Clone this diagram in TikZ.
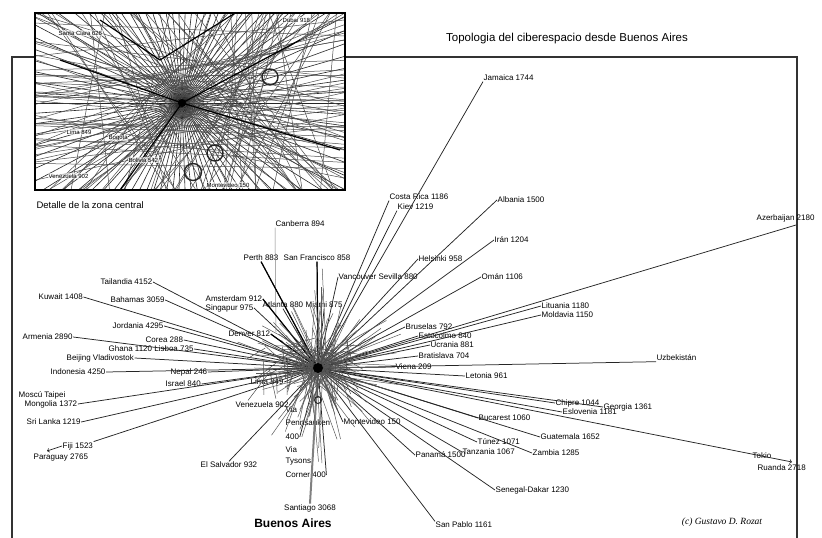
\documentclass[tikz,border=0pt]{standalone}
\usepackage{fontspec}
\setmainfont{Liberation Sans}
\newfontfamily\serifit{Liberation Serif}
\usetikzlibrary{calc}
\begin{document}
\begin{tikzpicture}[x=1pt,y=-1pt,
  lbl/.style={inner sep=0.5pt, anchor=west, font=\fontsize{8}{9}\selectfont},
  spoke/.style={draw=black!85, line width=0.75pt},
  faint/.style={draw=black!50, line width=0.5pt},
  heavy/.style={draw=black, line width=1.2pt},
  frame/.style={draw=black!80, line width=1.3pt},
  ring/.style={draw=black!85, line width=1.4pt}
]
\useasboundingbox (0,0) rectangle (822,538);
\draw[frame] (12,538) -- (12,57) -- (797,57) -- (797,538);

\coordinate (hub) at (318,368);

% labels to the right of the hub
\foreach \n/\x/\y/\t in {ja/483/78/Jamaica 1744, cr/389/197/Costa Rica 1186,
    ki/397/207/Kiev 1219, al/497/200/Albania 1500, hel/418/259/Helsinki 958,
    ir/494/240/Irán 1204, om/481/277/Omán 1106, van/338/277/Vancouver Sevilla 880,
    az/756/218/Azerbaijan 2180, lit/541/306/Lituania 1180, mol/541/315/Moldavia 1150,
    bru/405/327/Bruselas 792, est/418/336/Estocolmo 840, ucr/430/345/Ucrania 881,
    bra/418/356/Bratislava 704, vie/395/367/Viena 209, let/465/376/Letonia 961,
    uz/656/358/Uzbekistán, chi/555/403/Chipre 1044, geo/603/407/Georgia 1361,
    esl/562/412/Eslovenia 1181, buc/478/418/Bucarest 1060, gua/540/437/Guatemala 1652,
    tun/477/442/Túnez 1071, tan/462/452/Tanzania 1067, pan/415/455/Panamá 1500,
    zam/532/453/Zambia 1285, sen/495/490/Senegal-Dakar 1230, sp/435/525/San Pablo 1161,
    mv/343/422/Montevideo 150, tok/752/456/Tokio, rua/757/468/Ruanda 2718}
  \node[lbl] (\n) at (\x,\y) {\t};

% labels above and to the left of the hub
\foreach \n/\x/\y/\t in {can/275/224/Canberra 894, per/243/258/Perth 883,
    sf/283/258/San Francisco 858, ams/205/299/Amsterdam 912, sin/205/308/Singapur 975,
    atl/262/305/Atlanta 880, mia/305/305/Miami 875, den/228/334/Denver 812,
    tai/100/282/Tailandia 4152, kuw/38/297/Kuwait 1408, bah/110/300/Bahamas 3059,
    jor/112/326/Jordania 4295, arm/22/337/Armenia 2890, cor/145/340/Corea 288,
    gha/108/349/Ghana 1120 Lisboa 735, bei/66/358/Beijing Vladivostok,
    ind/50/372/Indonesia 4250, nep/170/372/Nepal 246, isr/165/384/Israel 840,
    lima/250/382/Lima 849, mos/18/395/Moscú Taipei, mon/24/404/Mongolia 1372,
    sri/26/422/Sri Lanka 1219, fij/62/446/Fiji 1523, par/33/458/Paraguay 2765,
    ven/235/405/Venezuela 902, es/200/465/El Salvador 932}
  \node[lbl] (\n) at (\x,\y) {\t};

% satellite column below the hub
\foreach \n/\y/\t in {v1/410/Via, v2/423/Pennsauken, v3/437/400, v4/450/Via,
    v5/462/Tysons, v6/475/Corner 400}
  \node[lbl] (\n) at (285,\y) {\t};

\node[lbl, anchor=center] (sant) at (310,508) {Santiago 3068};
\node[font=\fontsize{12}{14}\selectfont\bfseries] (ba) at (293,523) {Buenos Aires};
\node[font=\fontsize{11.5}{13}\selectfont] (title) at (567,39) {Topologia del ciberespacio desde Buenos Aires};
\node[font=\fontsize{9.5}{11}\selectfont\serifit\itshape] (copy) at (722,522) {(c) Gustavo D. Rozat};

\coordinate (azend) at (796,225);
\coordinate (ruend) at (792,462);
\coordinate (fijend) at (47,451);
\coordinate (canend) at (276,332);

% spokes
\foreach \n in {ja,cr,ki,uz}
  \draw[spoke] (hub) -- (\n.south west);
\foreach \n in {al,hel,ir,om,van,lit,mol,bru,est,ucr,bra,vie,let,chi,geo,esl,buc,
    gua,tun,tan,pan,zam,sen,mv}
  \draw[spoke] (hub) -- (\n.west);
\foreach \n in {tai,kuw,bah,jor,arm,cor,gha,bei,ind,nep,isr,lima,mon,sri,ven,den,ams,sin}
  \draw[spoke] (hub) -- (\n.east);
\foreach \n in {per,sf,atl,mia}
  \draw[spoke] (hub) -- (\n.south);
\draw[spoke] (hub) -- (sp.north west);
\draw[spoke] (hub) -- (es.north);
\draw[spoke] (hub) -- (fij.north east);
\draw[spoke, ->] (fij.west) -- (fijend);
\draw[spoke] (hub) -- (azend);
\draw[spoke, ->] (hub) -- (ruend);
\draw[faint] (can.south west) -- (canend);
\draw[faint, line width=2pt] (hub) -- (sant.north);
\draw[spoke] (hub) -- (v6.east);
\draw[spoke] (hub) -- (v3.east);
\draw[heavy] (hub) -- (ams.east);
\draw[heavy] (hub) -- (sf.south);
\draw[heavy] (hub) -- (per.south);
\draw[heavy] (hub) -- (den.east);

% dense core
\pgfmathsetseed{7}
\foreach \a in {0,3,...,357}
  \draw[faint, draw=black!65] ($(hub)+({-12+24*rnd},{-10+20*rnd})$) -- ++(\a:{20+70*rnd});
\foreach \i in {1,...,60}
  \draw[faint, draw=black!70] ($(hub)+({-60+90*rnd},{-30+40*rnd})$) -- ++({180*rnd}:{10+30*rnd});
\fill (hub) circle (5);
\draw[ring, line width=1pt] (318,400) circle (3.5);

% inset with the central zone
\node[font=\fontsize{9.5}{11}\selectfont, anchor=west] (cap) at (33,205) {Detalle de la zona central};
\fill[white] (35,13) rectangle (345,190);
\begin{scope}
  \clip (35,13) rectangle (345,190);
  \coordinate (ic) at (182,103);
  \foreach \a in {0,4,...,356}
    \draw[spoke, line width=0.6pt] (ic) -- ++(\a:400);
  \pgfmathsetseed{3}
  \foreach \i in {1,...,60}
    \draw[faint, draw=black!70] ({35+310*rnd},13) -- ({35+310*rnd},190);
  \foreach \i in {1,...,45}
    \draw[faint, draw=black!70] (35,{13+177*rnd}) -- (345,{13+177*rnd});
  \draw[heavy] (100,20) -- (160,60) -- (240,10);
  \draw[heavy] (120,190) -- (182,103) -- (300,40);
  \draw[heavy] (60,60) -- (182,103) -- (340,150);
  \fill (ic) circle (4);
  \draw[ring] (270,77) circle (8);
  \draw[ring] (215,153) circle (8);
  \draw[ring] (193,172) circle (8.5);
  \foreach \n/\x/\y/\t in {ia/58/33/Santa Clara 626, ib/282/20/Dubai 918,
      ic1/66/132/Lima 849, id/108/138/Bogotá, ie/128/160/Bolivia 542,
      ig/48/176/Venezuela 902, ih/206/185/Montevideo 150}
    \node[lbl, font=\fontsize{6}{7}\selectfont, fill=white, fill opacity=0.6, text opacity=1] (\n) at (\x,\y) {\t};
\end{scope}
\draw[line width=1.3pt] (35,13) rectangle (345,190);
\end{tikzpicture}
\end{document}
